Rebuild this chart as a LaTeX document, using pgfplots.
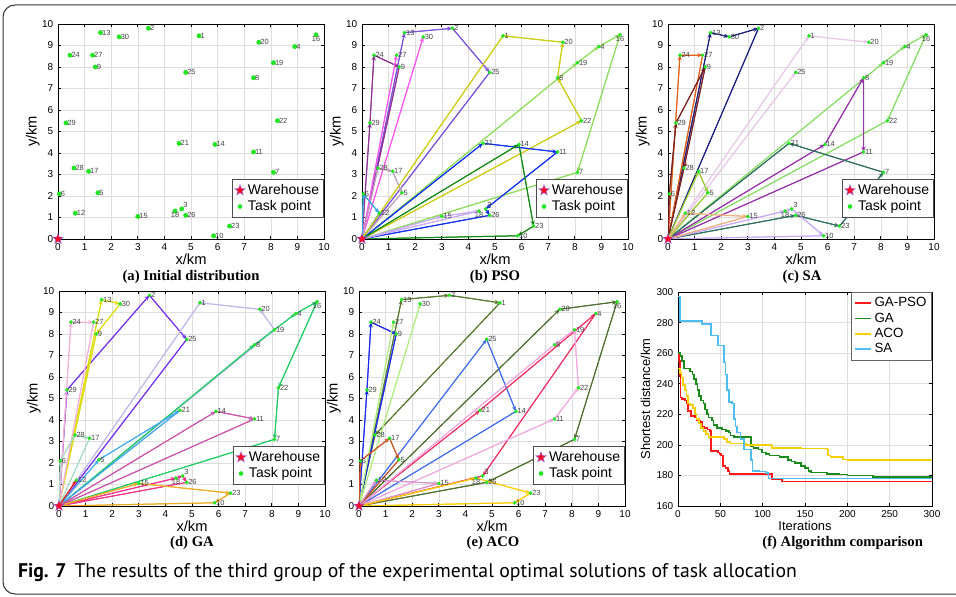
\documentclass[border=0pt]{standalone}
\usepackage{fontspec}
\setmainfont{Liberation Sans}
\newfontfamily\serifbf{Liberation Serif}
\newfontfamily\capfont{PT Sans}
\usepackage{pgfplots}
\pgfplotsset{compat=1.18}
\usepackage{pgfplotstable}
\usetikzlibrary{arrows.meta,decorations.pathreplacing}

\definecolor{tp}{RGB}{35,228,35}
% PSO
\definecolor{psoa}{HTML}{7B52D9}\definecolor{psob}{HTML}{8E3090}\definecolor{psoc}{HTML}{FF55EE}
\definecolor{psod}{HTML}{BFA0BF}\definecolor{psoe}{HTML}{33A8E0}\definecolor{psof}{HTML}{CCCC10}
\definecolor{psog}{HTML}{8EDD5A}\definecolor{psoh}{HTML}{1030EE}\definecolor{psoi}{HTML}{138A13}
\definecolor{psoj}{HTML}{C8ABF2}
% SA
\definecolor{saa}{HTML}{1A1F80}\definecolor{sab}{HTML}{E0601A}\definecolor{sac}{HTML}{7A1F1F}
\definecolor{sad}{HTML}{E8C8E8}\definecolor{sae}{HTML}{88DD66}\definecolor{saf}{HTML}{9933AA}
\definecolor{sag}{HTML}{2E6E5E}\definecolor{sah}{HTML}{C8A8F8}\definecolor{sai}{HTML}{99CC33}
\definecolor{saj}{HTML}{F0B080}
% GA
\definecolor{gaa}{HTML}{7733EE}\definecolor{gab}{HTML}{DDDD11}\definecolor{gac}{HTML}{F5B0D5}
\definecolor{gad}{HTML}{C0B8E8}\definecolor{gae}{HTML}{22CC66}\definecolor{gaf}{HTML}{44AAEE}
\definecolor{gag}{HTML}{CC55AA}\definecolor{gah}{HTML}{EE3388}\definecolor{gai}{HTML}{EEAA22}
\definecolor{gaj}{HTML}{A8D8C0}\definecolor{gak}{HTML}{DD2222}
% ACO
\definecolor{acoa}{HTML}{5A7A30}\definecolor{acob}{HTML}{4F7030}\definecolor{acoc}{HTML}{1A2AEE}
\definecolor{acod}{HTML}{B0EE80}\definecolor{acoe}{HTML}{4470EE}\definecolor{acof}{HTML}{EE3366}
\definecolor{acog}{HTML}{F0A8E0}\definecolor{acoh}{HTML}{CC5522}\definecolor{acoi}{HTML}{D890C8}
\definecolor{acoj}{HTML}{FFCC00}
% curves
\definecolor{cred}{HTML}{FF1A1A}\definecolor{cgreen}{HTML}{1A8A1A}
\definecolor{cyel}{HTML}{F5D000}\definecolor{cblue}{HTML}{4DBEEE}
\definecolor{starfill}{HTML}{FF0A28}\definecolor{staredge}{HTML}{7A70F5}

\pgfdeclareplotmark{wstar}{%
 \pgfpathmoveto{\pgfpointpolar{90}{\pgfplotmarksize}}%
 \pgfpathlineto{\pgfpointpolar{126}{0.42\pgfplotmarksize}}%
 \pgfpathlineto{\pgfpointpolar{162}{\pgfplotmarksize}}%
 \pgfpathlineto{\pgfpointpolar{198}{0.42\pgfplotmarksize}}%
 \pgfpathlineto{\pgfpointpolar{234}{\pgfplotmarksize}}%
 \pgfpathlineto{\pgfpointpolar{270}{0.42\pgfplotmarksize}}%
 \pgfpathlineto{\pgfpointpolar{306}{\pgfplotmarksize}}%
 \pgfpathlineto{\pgfpointpolar{342}{0.42\pgfplotmarksize}}%
 \pgfpathlineto{\pgfpointpolar{18}{\pgfplotmarksize}}%
 \pgfpathlineto{\pgfpointpolar{54}{0.42\pgfplotmarksize}}%
 \pgfpathclose
 \pgfusepathqfillstroke}

\tikzset{route/.style={draw=#1, line width=0.75pt, postaction={decorate},
  decoration={show path construction, lineto code={%
    \draw[#1, line width=0.75pt, -{Stealth[length=4pt,width=3.2pt]}] (\tikzinputsegmentfirst) -- (\tikzinputsegmentlast);}}}}

% task points, label to the right
\pgfplotstableread{
x y lab
5.3 9.45 1
3.4 9.8 2
8.9 8.95 4
1.5 2.15 5
0.05 2.1 6
8.1 3.1 7
7.35 7.5 8
1.4 8.0 9
5.85 0.15 10
7.35 4.05 11
0.65 1.2 12
1.6 9.6 13
5.9 4.4 14
3.0 1.05 15
1.15 3.15 17
8.1 8.2 19
7.55 9.15 20
4.55 4.45 21
8.25 5.5 22
6.45 0.6 23
0.45 8.55 24
4.8 7.75 25
4.8 1.1 26
1.3 8.55 27
0.6 3.3 28
0.3 5.4 29
2.3 9.4 30
}\ptsW
% task points, label below
\pgfplotstableread{
x y lab
9.7 9.5 16
4.4 1.3 18
}\ptsN
% task point, label above right
\pgfplotstableread{
x y lab
4.65 1.4 3
}\ptsNE

\pgfplotsset{
 panel/.style={
   scale only axis, width=199.5pt, height=161.25pt,
   xmin=0, xmax=10, ymin=0, ymax=10,
   xtick={0,1,...,10}, ytick={0,1,...,10},
   grid=major, major grid style={black!13, line width=0.4pt},
   axis line style={line width=0.6pt},
   major tick length=2.5pt, tick style={line width=0.5pt, black},
   tick label style={font=\fontsize{7.5}{8}\selectfont},
   label style={font=\fontsize{11}{12}\selectfont},
   xlabel={x/km}, ylabel={y/km},
   xlabel style={yshift=4.5pt}, ylabel style={yshift=-5pt},
   /pgf/number format/assume math mode=true,
   legend style={at={(1,0.1)}, anchor=south east, font=\fontsize{10.5}{12}\selectfont,
     draw=black!70, inner sep=1.5pt, legend cell align=left, row sep=-1pt},
 },
 pointsplot/.style 2 args={only marks, mark=*, mark size=#1, color=tp, forget plot,
   point meta=explicit symbolic, nodes near coords,
   every node near coord/.append style={font=\fontsize{5.6}{6}\selectfont, text=black!75, anchor=#2, inner sep=1pt}},
 starplot/.style={only marks, mark=wstar, mark size=4.2pt, mark options={fill=starfill, draw=staredge, line width=0.25pt}},
}

\newcommand\legendpts{%
  \addlegendimage{starplot}\addlegendentry{Warehouse}
  \addlegendimage{only marks, mark=*, mark size=1.5pt, color=tp}\addlegendentry{Task point}}
\newcommand\drawpoints[1]{%
  \addplot[pointsplot={#1}{west}] table[meta=lab]{\ptsW};
  \addplot[pointsplot={#1}{north}] table[meta=lab]{\ptsN};
  \addplot[pointsplot={#1}{south west}] table[meta=lab]{\ptsNE};
  \addplot[starplot, forget plot] coordinates {(0,0)};}

\begin{document}
\begin{tikzpicture}
\path[use as bounding box] (0,0) rectangle (717pt,447pt);
\begin{scope}
\clip (0,0) rectangle (717pt,447pt);
\draw[black!80, line width=0.75pt, rounded corners=9pt] (2.25pt,1.5pt) rectangle (730pt,443.25pt);
\end{scope}

% (a)
\begin{axis}[panel, at={(43.5pt,267.75pt)}, anchor=south west]
\legendpts
\drawpoints{1.6pt}
\end{axis}

% (b) PSO
\begin{axis}[panel, at={(271.5pt,267.75pt)}, anchor=south west]
\legendpts
\addplot[route=psoa] coordinates {(0,0) (1.6,9.6) (3.4,9.8) (4.8,7.75) (0,0)};
\addplot[route=psob] coordinates {(0,0) (0.3,5.4) (0.45,8.55) (1.4,8.0) (0,0)};
\addplot[route=psoc] coordinates {(0,0) (1.3,8.55)};
\addplot[route=psoc] coordinates {(0,0) (2.3,9.4)};
\addplot[route=psod] coordinates {(0,0) (0.6,3.3) (1.15,3.15) (1.5,2.15) (0,0)};
\addplot[route=psoe] coordinates {(0,0) (0.05,2.1) (0.65,1.2) (0,0)};
\addplot[route=psof] coordinates {(0,0) (8.25,5.5) (7.35,7.5) (7.55,9.15) (5.3,9.45) (0,0)};
\addplot[route=psog] coordinates {(0,0) (8.1,8.2) (8.9,8.95) (9.7,9.5) (8.1,3.1) (0,0)};
\addplot[route=psoh] coordinates {(0,0) (4.55,4.45) (7.35,4.05) (4.65,1.4) (4.8,1.1) (0,0)};
\addplot[route=psoi] coordinates {(0,0) (5.9,4.4) (6.45,0.6) (5.85,0.15) (0,0)};
\addplot[route=psoj] coordinates {(0,0) (3.0,1.05) (4.4,1.3) (0,0)};
\drawpoints{1.2pt}
\end{axis}

% (c) SA
\begin{axis}[panel, at={(501pt,267.75pt)}, anchor=south west]
\legendpts
\addplot[route=saa] coordinates {(0,0) (1.6,9.6) (2.3,9.4) (3.4,9.8) (0,0)};
\addplot[route=sab] coordinates {(0,0) (0.45,8.55) (1.3,8.55) (0,0)};
\addplot[route=sac] coordinates {(0,0) (0.05,2.1) (0.3,5.4) (1.4,8.0) (0.6,3.3) (0,0)};
\addplot[route=sad] coordinates {(0,0) (5.3,9.45) (7.55,9.15)};
\addplot[route=sad] coordinates {(0,0) (4.8,7.75)};
\addplot[route=sae] coordinates {(0,0) (8.1,8.2) (8.9,8.95) (9.7,9.5) (8.25,5.5) (0,0)};
\addplot[route=saf] coordinates {(0,0) (5.9,4.4) (7.35,7.5) (7.35,4.05) (0,0)};
\addplot[route=sag] coordinates {(0,0) (4.8,1.1) (6.45,0.6) (8.1,3.1) (4.55,4.45) (0,0)};
\addplot[route=sah] coordinates {(0,0) (4.4,1.3) (4.65,1.4) (5.85,0.15) (0,0)};
\addplot[route=sai] coordinates {(0,0) (1.15,3.15) (1.5,2.15) (0,0)};
\addplot[route=saj] coordinates {(0,0) (0.65,1.2) (3.0,1.05) (0,0)};
\drawpoints{1.2pt}
\end{axis}

% (d) GA
\begin{axis}[panel, at={(44.25pt,67.5pt)}, anchor=south west]
\legendpts
\addplot[route=gaa] coordinates {(0,0) (0.3,5.4) (3.4,9.8) (4.8,7.75) (0,0)};
\addplot[route=gab] coordinates {(0,0) (1.6,9.6) (2.3,9.4) (1.4,8.0) (0,0)};
\addplot[route=gac] coordinates {(0,0) (0.45,8.55) (1.3,8.55) (0,0)};
\addplot[route=gad] coordinates {(0,0) (8.1,8.2) (7.55,9.15) (5.3,9.45) (0,0)};
\addplot[route=gae] coordinates {(0,0) (7.35,7.5) (8.9,8.95) (9.7,9.5) (8.25,5.5) (8.1,3.1) (0,0)};
\addplot[route=gaf] coordinates {(0,0) (1.5,2.15) (4.55,4.45) (0,0)};
\addplot[route=gag] coordinates {(0,0) (5.9,4.4) (7.35,4.05) (0,0)};
\addplot[route=gah] coordinates {(0,0) (4.4,1.3) (4.65,1.4) (4.8,1.1) (0,0)};
\addplot[route=gai] coordinates {(0,0) (3.0,1.05) (6.45,0.6) (5.85,0.15) (0,0)};
\addplot[route=gaj] coordinates {(0,0) (0.05,2.1) (0.6,3.3) (1.15,3.15) (0,0)};
\addplot[route=gak] coordinates {(0,0) (0.65,1.2)};
\drawpoints{1.2pt}
\end{axis}

% (e) ACO
\begin{axis}[panel, at={(269.25pt,67.5pt)}, anchor=south west]
\legendpts
\addplot[route=acoa] coordinates {(0,0) (1.6,9.6) (3.4,9.8) (5.3,9.45) (0.6,3.3) (0,0)};
\addplot[route=acob] coordinates {(0,0) (7.55,9.15) (9.7,9.5) (8.1,3.1) (4.8,1.1) (0,0)};
\addplot[route=acoc] coordinates {(0,0) (0.3,5.4) (0.45,8.55) (1.4,8.0) (0,0)};
\addplot[route=acod] coordinates {(0,0) (1.3,8.55)};
\addplot[route=acod] coordinates {(0,0) (2.3,9.4)};
\addplot[route=acoe] coordinates {(0,0) (4.8,7.75) (5.9,4.4) (0,0)};
\addplot[route=acof] coordinates {(0,0) (4.55,4.45) (8.9,8.95) (4.65,1.4) (0,0)};
\addplot[route=acog] coordinates {(0,0) (7.35,4.05) (8.25,5.5) (8.1,8.2) (7.35,7.5) (0,0)};
\addplot[route=acoh] coordinates {(0,0) (0.05,2.1) (1.15,3.15) (1.5,2.15) (0,0)};
\addplot[route=acoi] coordinates {(0,0) (0.65,1.2) (3.0,1.05) (0,0)};
\addplot[route=acoj] coordinates {(0,0) (4.4,1.3) (6.45,0.6) (5.85,0.15) (0,0)};
\drawpoints{1.2pt}
\end{axis}

% (f) comparison
\begin{axis}[scale only axis, width=190.5pt, height=160.5pt, at={(508.5pt,67.5pt)}, anchor=south west,
   xmin=0, xmax=300, ymin=160, ymax=300,
   xtick={0,50,...,300}, ytick={160,180,...,300},
   grid=major, major grid style={black!13, line width=0.4pt},
   axis line style={line width=0.6pt},
   major tick length=2.5pt, tick style={line width=0.5pt, black},
   tick label style={font=\fontsize{7.5}{8}\selectfont},
   label style={font=\fontsize{9.7}{11}\selectfont},
   xlabel={Iterations}, ylabel={Shortest distance/km},
   xlabel style={yshift=4.5pt}, ylabel style={yshift=-2pt},
   /pgf/number format/assume math mode=true,
   legend style={at={(1,1)}, anchor=north east, font=\fontsize{10}{11}\selectfont,
     draw=black!60, inner sep=2pt, legend cell align=left, row sep=-1pt},
   legend image code/.code={\draw[#1, line width=1.3pt] (0pt,0pt) -- (12pt,0pt);}]
\addplot[cred, const plot, line width=1.2pt] coordinates {(0,260) (1,255) (2,245) (3,231) (5,230) (8,229) (10,227) (12,222) (15,219) (20,218) (22,216) (26,215) (29,212) (31,211) (35,210) (38,209) (39,196) (45,196) (47,195) (49,194) (51,193) (53,186) (56,185) (59,183) (61,181) (110,181) (111,177.5) (123,176) (300,176)};
\addlegendentry{GA-PSO}
\addplot[cgreen, const plot, line width=1.2pt] coordinates {(0,260) (3,258) (5,255) (7,250) (14,248) (17,246) (19,243) (21,240) (23,236) (25,232) (27,229) (30,227) (32,223) (34,220) (36,218) (40,216) (42,213) (46,211) (52,210) (57,209) (60,208) (62,206) (66,205) (84,205) (86,199) (89,198) (95,197) (99,195) (104,194) (108,193) (120,192) (130,190) (134,189) (138,188) (145,186) (150,185) (154,183) (157,182) (176,181) (190,180.5) (200,180) (230,179) (300,179)};
\addlegendentry{GA}
\addplot[cyel, const plot, line width=1.2pt] coordinates {(0,250) (2,247) (4,244) (6,239) (8,236) (10,232) (12,227) (14,226) (18,224) (20,220) (22,217) (25,214) (27,211) (30,209) (33,207) (36,205) (54,204) (58,202) (62,201) (80,200) (110,199.5) (111,198) (145,197.5) (176,197) (177,193) (180,192) (195,190.5) (200,190) (300,189.5)};
\addlegendentry{ACO}
\addplot[cblue, const plot, line width=1.2pt] coordinates {(0,297) (2,281) (26,281) (28,279) (38,279) (39,271.5) (46,271.5) (47,265) (52,265) (54,254) (56,246) (58,236) (60,228) (64,227) (66,217) (68,212) (70,208) (74,204) (78,197) (84,197) (86,190) (88,183) (96,182.5) (104,181.5) (107,178) (300,178)};
\addlegendentry{SA}
\end{axis}

% subtitles
\begin{scope}[every node/.style={font=\serifbf\bfseries\fontsize{11}{12}\selectfont}]
\node at (143.25pt,239pt) {(a) Initial distribution};
\node at (371.25pt,239pt) {(b) PSO};
\node at (601.5pt,239pt) {(c) SA};
\node at (144pt,39.75pt) {(d) GA};
\node at (369.75pt,39.75pt) {(e) ACO};
\node at (632pt,39.75pt) {(f) Algorithm comparison};
\end{scope}
\node[anchor=base west, font=\capfont\fontsize{14.8}{16}\selectfont] at (10pt,14pt)
  {\textbf{Fig. 7}\hspace{0.4em}The results of the third group of the experimental optimal solutions of task allocation};
\end{tikzpicture}
\end{document}
